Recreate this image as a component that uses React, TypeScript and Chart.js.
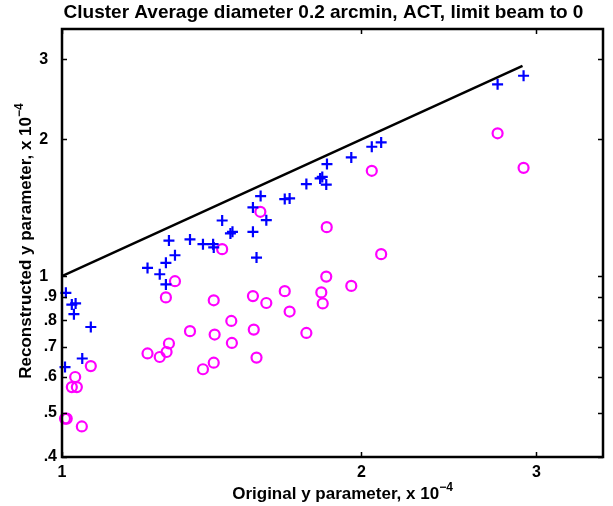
import React, { useEffect, useRef } from "react";
import { Chart, registerables } from "chart.js";

Chart.register(...registerables);

const titleText = "Cluster Average diameter 0.2 arcmin, ACT, limit beam to 0";
const xLabelText = "Original y parameter, x 10";
const yLabelText = "Reconstructed y parameter, x 10";
const expText = "\u22124";

const xTickValues = [1, 2, 3];
const yTickValues = [0.4, 0.5, 0.6, 0.7, 0.8, 0.9, 1, 2, 3];
const xRange = [1, 3.5];
const yRange = [0.4, 3.5];

const lineX = [1, 2.905];
const lineY = [1, 2.905];

const plusX = [1.009, 1.023, 1.032, 1.028, 1.069, 1.007, 1.048, 1.219, 1.254, 1.272, 1.272, 1.281, 1.299, 1.345, 1.386, 1.419, 1.421, 1.449, 1.477, 1.484, 1.556, 1.556, 1.569, 1.584, 1.605, 1.675, 1.694, 1.761, 1.818, 1.827, 1.844, 1.847, 1.954, 2.049, 2.094, 2.742, 2.912];
const plusY = [0.919, 0.866, 0.871, 0.825, 0.773, 0.631, 0.659, 1.043, 1.010, 1.070, 0.959, 1.198, 1.112, 1.205, 1.176, 1.176, 1.157, 1.326, 1.242, 1.252, 1.417, 1.252, 1.099, 1.501, 1.328, 1.478, 1.483, 1.595, 1.641, 1.654, 1.591, 1.765, 1.826, 1.927, 1.970, 2.644, 2.762];

const circleX = [1.007, 1.011, 1.047, 1.031, 1.023, 1.035, 1.069, 1.219, 1.254, 1.274, 1.281, 1.272, 1.299, 1.345, 1.386, 1.421, 1.421, 1.424, 1.449, 1.480, 1.482, 1.556, 1.559, 1.569, 1.583, 1.605, 1.675, 1.694, 1.761, 1.823, 1.829, 1.844, 1.846, 1.954, 2.049, 2.094, 2.742, 2.912];
const circleY = [0.486, 0.486, 0.467, 0.600, 0.570, 0.570, 0.634, 0.676, 0.664, 0.681, 0.711, 0.898, 0.975, 0.757, 0.624, 0.645, 0.885, 0.744, 1.147, 0.797, 0.713, 0.904, 0.763, 0.662, 1.386, 0.873, 0.927, 0.836, 0.750, 0.921, 0.871, 0.998, 1.282, 0.952, 1.706, 1.118, 2.063, 1.732];

const FONT = "'Liberation Sans', Arial, Helvetica, sans-serif";

function fmtTick(v: number): string {
  if (v >= 1) return String(Math.round(v)) + "  ";
  return "." + String(Math.round(v * 10));
}

const framePlugin = {
  id: "framePlugin",
  afterDraw(chart: any) {
    const { ctx, chartArea: a, scales } = chart;
    ctx.save();
    ctx.strokeStyle = "#000";
    ctx.lineWidth = 1.5;
    for (const v of yTickValues) {
      const py = Math.round(scales.y.getPixelForValue(v)) + 0.5;
      ctx.beginPath();
      ctx.moveTo(a.left, py);
      ctx.lineTo(a.left + 5, py);
      ctx.moveTo(a.right, py);
      ctx.lineTo(a.right - 5, py);
      ctx.stroke();
    }
    for (const v of xTickValues) {
      const px = Math.round(scales.x.getPixelForValue(v)) + 0.5;
      ctx.beginPath();
      ctx.moveTo(px, a.bottom);
      ctx.lineTo(px, a.bottom - 5);
      ctx.moveTo(px, a.top);
      ctx.lineTo(px, a.top + 5);
      ctx.stroke();
    }
    ctx.lineWidth = 2.5;
    ctx.strokeRect(a.left, a.top, a.right - a.left, a.bottom - a.top);

    ctx.fillStyle = "#000";
    const cx = (a.left + a.right) / 2;
    ctx.font = "bold 19px " + FONT;
    ctx.textAlign = "center";
    ctx.textBaseline = "middle";
    ctx.fillText(titleText, cx - 9, 13);

    const drawLabel = (text: string, x: number, y: number) => {
      ctx.font = "bold 17px " + FONT;
      const w1 = ctx.measureText(text).width;
      ctx.font = "bold 12px " + FONT;
      const w2 = ctx.measureText(expText).width;
      const start = x - (w1 + w2) / 2;
      ctx.textAlign = "left";
      ctx.textBaseline = "alphabetic";
      ctx.font = "bold 17px " + FONT;
      ctx.fillText(text, start, y);
      ctx.font = "bold 12px " + FONT;
      ctx.fillText(expText, start + w1, y - 8);
    };
    drawLabel(xLabelText, cx + 10, 499);
    ctx.save();
    ctx.translate(31, (a.top + a.bottom) / 2 - 2);
    ctx.rotate(-Math.PI / 2);
    drawLabel(yLabelText, 0, 0);
    ctx.restore();
    ctx.restore();
  },
};

export default function App() {
  const ref = useRef<HTMLCanvasElement | null>(null);
  useEffect(() => {
    if (!ref.current) return;
    const chart = new Chart(ref.current, {
      type: "scatter",
      data: {
        datasets: [
          {
            type: "line",
            label: "line",
            data: lineX.map((x, i) => ({ x, y: lineY[i] })),
            borderColor: "#000",
            borderWidth: 2.5,
            pointRadius: 0,
            showLine: true,
            fill: false,
            clip: false as any,
          } as any,
          {
            label: "reconstructed",
            data: plusX.map((x, i) => ({ x, y: plusY[i] })),
            pointStyle: "cross",
            pointRadius: 5.5,
            borderColor: "rgb(0,0,255)",
            backgroundColor: "rgb(0,0,255)",
            borderWidth: 2.2,
            clip: false as any,
          } as any,
          {
            label: "other",
            data: circleX.map((x, i) => ({ x, y: circleY[i] })),
            pointStyle: "circle",
            pointRadius: 5,
            borderColor: "rgb(255,0,255)",
            backgroundColor: "rgba(0,0,0,0)",
            borderWidth: 2.2,
            clip: false as any,
          } as any,
        ],
      },
      options: {
        animation: false,
        responsive: true,
        maintainAspectRatio: false,
        layout: { padding: { top: 29, right: 10, left: 0, bottom: 0 } },
        plugins: { legend: { display: false }, tooltip: { enabled: false }, title: { display: false } },
        scales: {
          x: {
            type: "logarithmic",
            min: xRange[0],
            max: xRange[1],
            afterBuildTicks: (s: any) => {
              s.ticks = xTickValues.map((v) => ({ value: v }));
            },
            afterFit: (s: any) => {
              s.height = 49;
            },
            grid: { display: false, drawTicks: false },
            border: { display: false },
            ticks: {
              autoSkip: false,
              maxRotation: 0,
              padding: 6,
              color: "#000",
              font: { family: FONT, size: 16, weight: "bold" },
              callback: (v: any) => String(v),
            },
          },
          y: {
            type: "logarithmic",
            min: yRange[0],
            max: yRange[1],
            afterBuildTicks: (s: any) => {
              s.ticks = yTickValues.map((v) => ({ value: v }));
            },
            afterFit: (s: any) => {
              s.width = 62;
            },
            grid: { display: false, drawTicks: false },
            border: { display: false },
            ticks: {
              autoSkip: false,
              padding: 5,
              color: "#000",
              font: { family: FONT, size: 16, weight: "bold" },
              callback: (v: any) => fmtTick(Number(v)),
            },
          },
        },
      } as any,
      plugins: [framePlugin],
    });
    return () => chart.destroy();
  }, []);
  return (
    <div style={{ position: "fixed", left: 0, top: 0, width: 613, height: 506, background: "#fff" }}>
      <canvas ref={ref} />
    </div>
  );
}
